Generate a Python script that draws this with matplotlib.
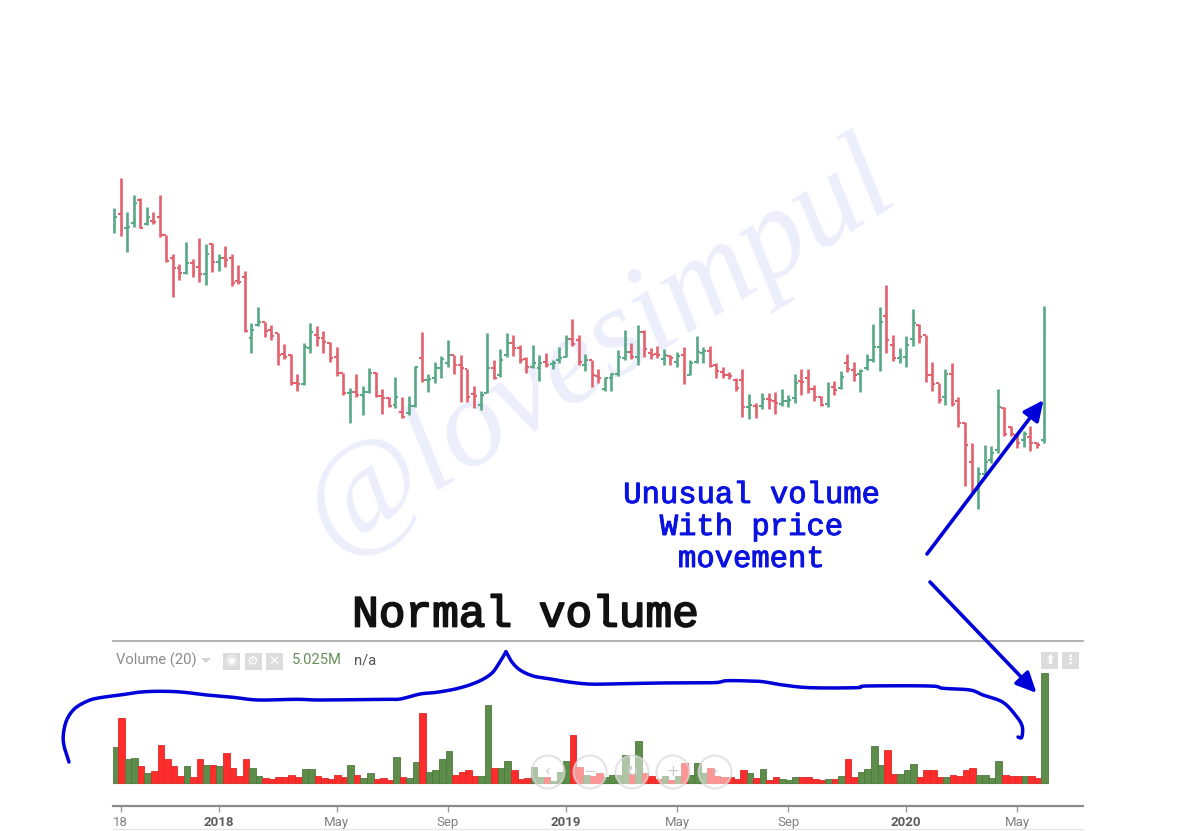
import matplotlib
matplotlib.use("Agg")
import matplotlib.pyplot as plt
import matplotlib.patheffects as pe
from matplotlib.patches import Circle, Rectangle, FancyArrowPatch, Polygon

W, H = 1200, 831

# ---------- data ----------
high = [392,422,388,405,402,393,388,405,365,346,336,358,341,362,356,357,346,354,346,335,329,277,293,278,275,267,256,246,226,257,277,274,269,258,253,227,212,226,214,232,228,211,203,223,
        203,204,234,268,226,238,244,260,245,245,231,214,209,267,240,251,267,265,255,243,255,245,247,240,253,265,281,265,246,240,231,223,227,250,270,257,275,270,252,254,251,245,248,253,240,264,253,254,237,233,228,
        222,231,206,197,207,207,208,211,205,226,231,231,215,204,218,219,229,246,238,231,246,276,293,315,265,252,264,291,276,265,238,217,231,237,203,178,157,133,155,154,211,193,174,167,169,174,158,294]
low = [367,364,348,373,372,375,376,363,338,303,320,326,323,318,315,328,329,333,314,316,268,247,274,263,260,235,241,215,209,215,247,254,247,238,224,205,177,203,185,207,203,186,193,192,
       182,185,193,218,208,217,222,233,226,198,198,192,190,207,221,223,243,244,237,227,232,219,233,231,237,243,254,235,229,213,217,209,209,224,240,241,235,243,241,242,235,235,233,216,225,237,237,233,222,222,221,
       209,183,181,182,191,191,186,194,193,197,205,207,199,194,193,205,211,228,219,208,230,238,229,247,239,237,233,254,257,218,209,197,195,194,173,114,108,91,122,137,147,164,164,152,153,149,152,157]
open_ = [375,386,372,377,400,376,379,383,365,342,332,327,337,333,326,356,338,342,342,319,323,262,275,278,270,267,246,245,217,216,252,265,262,257,243,227,207,208,205,208,227,204,202,195,
         188,187,194,242,220,222,232,237,245,235,231,206,195,207,232,225,245,257,252,241,233,232,238,236,240,243,261,260,235,240,224,211,222,226,242,248,243,268,247,246,241,244,238,245,225,238,247,249,235,228,225,
         220,220,193,194,194,201,199,196,199,202,219,222,211,203,196,213,212,237,230,226,232,240,253,284,255,242,243,261,275,265,225,217,203,226,199,177,138,111,126,140,150,192,173,165,160,163,157,160]
close = [383,370,373,397,372,383,378,365,339,332,327,337,328,326,346,338,342,340,317,318,269,270,278,269,264,245,243,217,216,253,268,262,258,242,227,207,208,205,208,227,204,202,194,203,
         183,194,233,220,221,232,241,245,235,232,203,204,205,232,222,240,257,252,240,233,237,237,235,237,242,261,256,238,240,225,222,222,226,243,248,243,268,251,245,245,245,242,244,222,237,248,249,234,229,225,224,
         212,193,195,193,201,200,197,199,200,217,218,211,203,195,213,210,223,231,225,229,240,253,278,260,242,243,255,277,263,225,216,200,226,196,177,155,110,126,138,147,193,166,166,157,166,157,155,272]

up = [c > o for o, c in zip(open_, close)]

volume_m = [1.63,2.98,1.09,1.15,.80,.45,.58,1.76,1.09,.80,.35,.80,.30,1.09,.85,.85,.80,1.36,.70,.35,1.09,.70,.35,.23,.18,.30,.30,.39,.30,.65,.65,.35,.24,.18,.39,.30,.85,.39,.24,.45,.18,.24,.14,1.21,
            .30,.24,.95,3.18,.50,.61,1.09,1.45,.39,.50,.61,.35,.35,3.57,.70,.70,1.03,.61,.20,.24,.76,.30,.30,.12,.50,1.03,2.19,.76,.38,.35,.45,.30,.39,.36,1.30,.42,1.91,.48,.35,.20,.35,.15,.33,.91,.39,.91,.45,.70,.35,.27,.30,.20,.61,.45,
            .24,.64,.15,.29,.18,.15,.29,.29,.29,.20,.14,.18,.18,.35,1.09,.29,.50,.65,1.70,.85,1.51,.44,.44,.59,.89,.29,.59,.59,.29,.29,.39,.35,.59,.70,.39,.39,.24,1.01,.39,.33,.33,.33,.33,.24,5.025]

tick_pos = [1, 16, 34, 51, 69, 86, 103, 121, 138]
tick_labels = ["18", "2018", "May", "Sep", "2019", "May", "Sep", "2020", "May"]
tick_bold = ["2018", "2019", "2020"]

brace_left = [(69,762),(64.3,747),(63.3,735),(66.7,720),(75,708.3),(88.3,700.7),(100,697.7),(120,695),(145,691.7),(176.7,691.7),
              (206.7,695),(233,697.3),(258,700),(296.7,699.3),(320,700),(383,699.3),(400,699),(420,694),(436.7,692.3),
              (458.3,688.3),(478,681.7),(491.7,673.3),(500,661.7),(506,651.7)]
brace_right = [(506,651.7),(511.7,661.7),(520,670),(533,676),(546.7,678.3),
               (566.7,681.7),(588,684),(610,684),(660,683),(713,682.7),(726.7,680.7),(750,681),(763,681.7),(783,685),(810,687.7),
               (856.7,687.7),(866.7,686),(930,686),(943,688.3),(970,690),(983,695),(1003,702.3),(1016.7,716.7),(1022.3,726.7),
               (1021.7,737.3),(1018,737)]

# ---------- layout ----------
X0 = 114.0
DX = 6.546
L, R = 113, 1083

fig = plt.figure(figsize=(W/100, H/100), dpi=100, facecolor="white")


def px_axes(z):
    a = fig.add_axes([0, 0, 1, 1], zorder=z)
    a.set_xlim(0, W)
    a.set_ylim(H, 0)
    a.axis("off")
    a.patch.set_alpha(0)
    return a


def panel(top, bottom):
    a = fig.add_axes([L/W, 1-bottom/H, (R-L)/W, (bottom-top)/H], zorder=1)
    a.set_xlim((L-X0)/DX, (R-X0)/DX)
    a.patch.set_alpha(0)
    return a


def smooth(pts, n=8):
    """Catmull-Rom rounding of the hand-drawn stroke."""
    out = []
    p = [pts[0]] + list(pts) + [pts[-1]]
    for i in range(1, len(p)-2):
        for k in range(n):
            t = k/n
            q = []
            for d in (0, 1):
                a, b, c, e = p[i-1][d], p[i][d], p[i+1][d], p[i+2][d]
                q.append(0.5*(2*b + (c-a)*t + (2*a-5*b+4*c-e)*t*t + (3*b-a-3*c+e)*t**3))
            out.append(q)
    out.append(list(pts[-1]))
    return out


bg = px_axes(0)
bg.text(600, 348, "@lovesimpul", rotation=32, rotation_mode="anchor", ha="center", va="center",
        family="Liberation Serif", style="italic", fontsize=92, color="#eceefb")

# ---------- price panel ----------
ax = panel(130, 600)
ax.set_ylim(0, 470)
ax.axis("off")
RED, GREEN = "#e2616d", "#58a886"
cols = [GREEN if u else RED for u in up]
xs = list(range(len(high)))
ax.vlines(xs, low, high, colors=cols, linewidth=1.9, capstyle="butt")
ax.hlines(open_, [x-0.45 for x in xs], xs, colors=cols, linewidth=1.5)
ax.hlines(close, xs, [x+0.45 for x in xs], colors=cols, linewidth=1.5)

# ---------- volume panel ----------
vx = panel(641, 806)
vx.set_ylim(-1.03, 6.46)
vcols = ["#5d8c4b" if u else "#ff2c2c" for u in up]
ecols = ["#4d7a3d" if u else "#dd2a2a" for u in up]
vx.bar([x+0.15 for x in xs], volume_m, width=1.0, color=vcols, edgecolor=ecols, linewidth=0.6)
vx.plot([xs[0], xs[-1]+0.6], [0, 0], color="#b8dcae", lw=1, zorder=0.5)
vx.set_yticks([])
for s in ("left", "right"):
    vx.spines[s].set_visible(False)
vx.spines["top"].set_color("#adadad")
vx.spines["top"].set_linewidth(1.3)
vx.spines["bottom"].set_color("#8a8a8a")
vx.spines["bottom"].set_linewidth(1.6)
vx.set_xticks(tick_pos)
vx.set_xticklabels(tick_labels, family="Roboto", fontsize=9.5, color="#808080")
for t in vx.get_xticklabels():
    if t.get_text() in tick_bold:
        t.set_fontweight("bold")
        t.set_color("#5c5c5c")
vx.tick_params(axis="x", length=4, width=1, color="#999999", pad=3)

# ---------- overlay ----------
ov = px_axes(2)
ov.plot([L, R], [829, 829], color="#e6e6e6", lw=1)

ov.text(116, 660.5, "Volume (20)", family="Roboto", fontsize=10.6, color="#8a8a8a", va="center", ha="left")
ov.add_patch(Polygon([(201, 658), (211, 658), (206, 663)], closed=True, fc="#d2d2d2", ec="none"))
ico = [(223, "◉"), (244.5, "⚙"), (265.5, "✕")]
for x, g in ico:
    ov.add_patch(Rectangle((x, 653), 17, 16.5, fc="#dcdcdc", ec="none"))
    ov.text(x+8.5, 661, g, family="DejaVu Sans", fontsize=9.5, color="white", ha="center", va="center")
ov.text(292, 660.5, "5.025M", family="Roboto", fontsize=10.6, color="#668f58", va="center", ha="left")
ov.text(354, 660.5, "n/a", family="Roboto", fontsize=10.6, color="#555555", va="center", ha="left")
for x, g in [(1041, "⬆"), (1062, "⋮")]:
    ov.add_patch(Rectangle((x, 652), 17, 17, fc="#dcdcdc", ec="none"))
    ov.text(x+8.5, 660.5, g, family="DejaVu Sans", fontsize=9.5, color="white", ha="center", va="center", fontweight="bold")

for x, g in zip([548, 590, 632, 673, 715], ["‹", "−", "↻", "+", "›"]):
    ov.add_patch(Circle((x, 772), 16.5, fc=(1, 1, 1, 0.5), ec=(0.85, 0.85, 0.85, 0.7), lw=1.5))
    ov.text(x, 771.5, g, family="DejaVu Sans", fontsize=11, color="#cccccc", ha="center", va="center")

BLUE = "#0a12e0"
for part in (brace_left, brace_right):
    c = smooth(part)
    ov.plot([p[0] for p in c], [p[1] for p in c], color="#0000d8", lw=2.5,
            solid_capstyle="round", solid_joinstyle="round")
for a, b in [((927, 554), (1043.5, 400)), ((930, 582), (1036.5, 693))]:
    ov.add_patch(FancyArrowPatch(a, b, arrowstyle="-|>,head_length=3.6,head_width=1.7", mutation_scale=3.4,
                                 color="#0000d8", lw=2.6, shrinkA=0, shrinkB=0))

mono = dict(family="Liberation Mono", ha="center", va="center")
ov.text(526, 615, "Normal volume", fontsize=32, color="#111111",
        path_effects=[pe.withStroke(linewidth=1.3, foreground="#111111")], **mono)
for y, s in [(495, "Unusual volume"), (527, "With price"), (559, "movement")]:
    ov.text(751, y, s, fontsize=22, color=BLUE,
            path_effects=[pe.withStroke(linewidth=0.7, foreground=BLUE)], **mono)

fig.savefig("out.png", dpi=100, facecolor="white")
